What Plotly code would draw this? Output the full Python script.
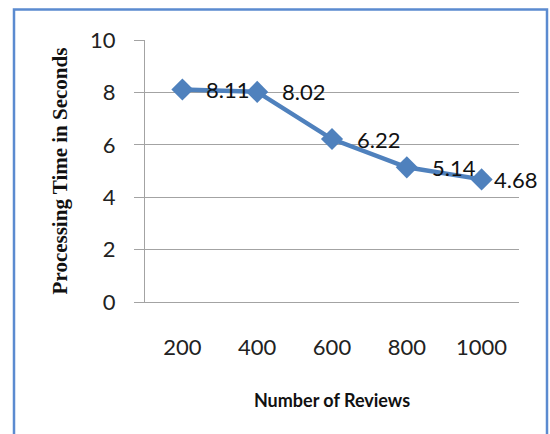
import plotly.graph_objects as go

# Processing time measured for each review-set size
reviews = ["200", "400", "600", "800", "1000"]
seconds = [8.11, 8.02, 6.22, 5.14, 4.68]
y_ticks = [0, 2, 4, 6, 8, 10]

BLUE = "#4F81BD"
GRID = "#a3a3a3"
SANS = "Lato, 'Open Sans', sans-serif"

fig = go.Figure()
fig.add_trace(go.Scatter(
    x=reviews, y=seconds, mode="lines+markers",
    line=dict(color=BLUE, width=4.5),
    marker=dict(symbol="diamond", size=17, color=BLUE),
    hoverinfo="x+y", showlegend=False,
))

# value labels sit just right of each marker (category index keeps them on the points)
label_shift = [22, 23, 23, 23, 10]
for i, (val, dx) in enumerate(zip(seconds, label_shift)):
    fig.add_annotation(
        x=i, y=val, text=f"{val:.2f}", showarrow=False,
        xanchor="left", yanchor="middle", xshift=dx,
        font=dict(family=SANS, size=22, color="#111111"),
    )

W, H = 550, 434
L, R, T, B = 145, 31, 40, 132
pw, ph = W - L - R, H - T - B

# outer frame around the whole chart
def px_x(p):
    return (p - L) / pw

def px_y(p):
    return 1 + (T - p) / ph

fig.add_shape(type="rect", xref="paper", yref="paper",
              x0=px_x(14), x1=px_x(547), y0=px_y(470), y1=px_y(9.5),
              line=dict(color="#5b8bd0", width=2.5), layer="below")

fig.update_layout(
    width=W, height=H,
    margin=dict(l=L, r=R, t=T, b=B),
    paper_bgcolor="white", plot_bgcolor="white",
    xaxis=dict(
        type="category", range=[-0.5, 4.5],
        showgrid=False, showline=True, linecolor=GRID, linewidth=1,
        ticks="", ticklabelstandoff=26,
        tickfont=dict(family=SANS, size=22, color="#222222"),
        title=dict(text="Number of Reviews", standoff=34,
                   font=dict(family=SANS, size=18, color="#111111", weight="bold")),
    ),
    yaxis=dict(
        range=[0, 10], tickvals=y_ticks,
        showgrid=True, gridcolor=GRID, gridwidth=1,
        showline=True, linecolor=GRID, linewidth=1,
        ticks="outside", ticklen=10, tickcolor=GRID,
        ticklabelstandoff=14, zeroline=False,
        tickfont=dict(family=SANS, size=22, color="#222222"),
        title=dict(text="Processing Time in Seconds", standoff=16,
                   font=dict(family="'Liberation Serif', 'DejaVu Serif', serif",
                             size=21, color="#111111", weight="bold")),
    ),
)

fig.write_html("out.html")
